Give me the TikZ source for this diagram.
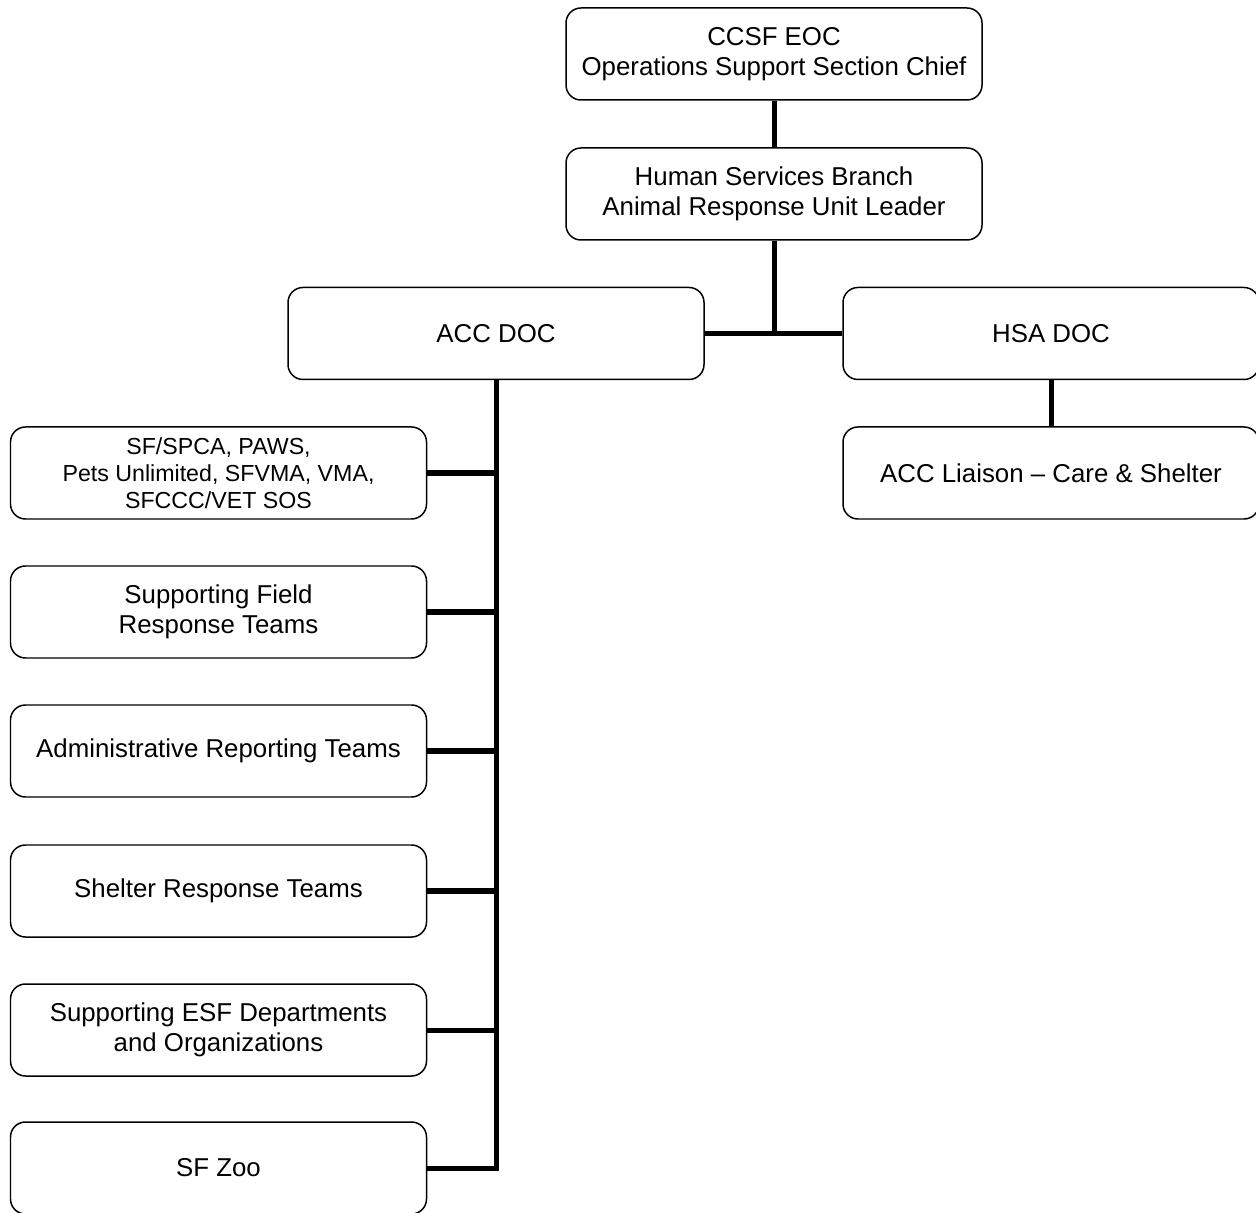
\documentclass[tikz,border=0pt]{standalone}
\usepackage{fontspec}
\setmainfont{Liberation Sans}

\begin{document}
\begin{tikzpicture}[
    unit/.style={draw=black,line width=0.85pt,rounded corners=0.3cm,
                 minimum width=8.32cm,minimum height=1.84cm,align=center,
                 inner sep=0pt,font=\fontsize{14.7}{17}\selectfont},
    small/.style={font=\fontsize{13.2}{15.3}\selectfont},
    link/.style={line width=2.85pt}]
  \useasboundingbox (0,0) rectangle (25.12,24.24);
  % command chain
  \node[unit] at (15.48,23.16) (eoc) {CCSF EOC\\Operations Support Section Chief};
  \node[unit] at (15.48,20.36) (hsb) {Human Services Branch\\Animal Response Unit Leader};
  \node[unit] at (9.92,17.57) (acc) {ACC DOC};
  \node[unit] at (21.02,17.57) (hsa) {HSA DOC};
  \node[unit] at (21.02,14.78) (liaison) {ACC Liaison -- Care \& Shelter};
  % teams under ACC DOC
  \node[unit,small] at (4.37,14.78) (partners)
        {SF/SPCA, PAWS,\\Pets Unlimited, SFVMA, VMA,\\SFCCC/VET SOS};
  \node[unit] at (4.37,12.00) (field) {Supporting Field\\Response Teams};
  \node[unit] at (4.37,9.22) (admin) {Administrative Reporting Teams};
  \node[unit] at (4.37,6.42) (shelter) {Shelter Response Teams};
  \node[unit] at (4.37,3.64) (esf) {Supporting ESF Departments\\and Organizations};
  \node[unit] at (4.37,0.88) (zoo) {SF Zoo};
  \draw[link] (eoc) -- (hsb);
  \draw[link] (acc.east) -- (hsa.west);
  \draw[link] (hsb.south) -- (hsb.south |- acc.east);
  \draw[link] (hsa) -- (liaison);
  \draw[link] (acc.south) |- (zoo.east);
  \foreach \t in {partners,field,admin,shelter,esf}
    \draw[link] (\t.east) -- (\t.east -| acc.south);
\end{tikzpicture}
\end{document}
